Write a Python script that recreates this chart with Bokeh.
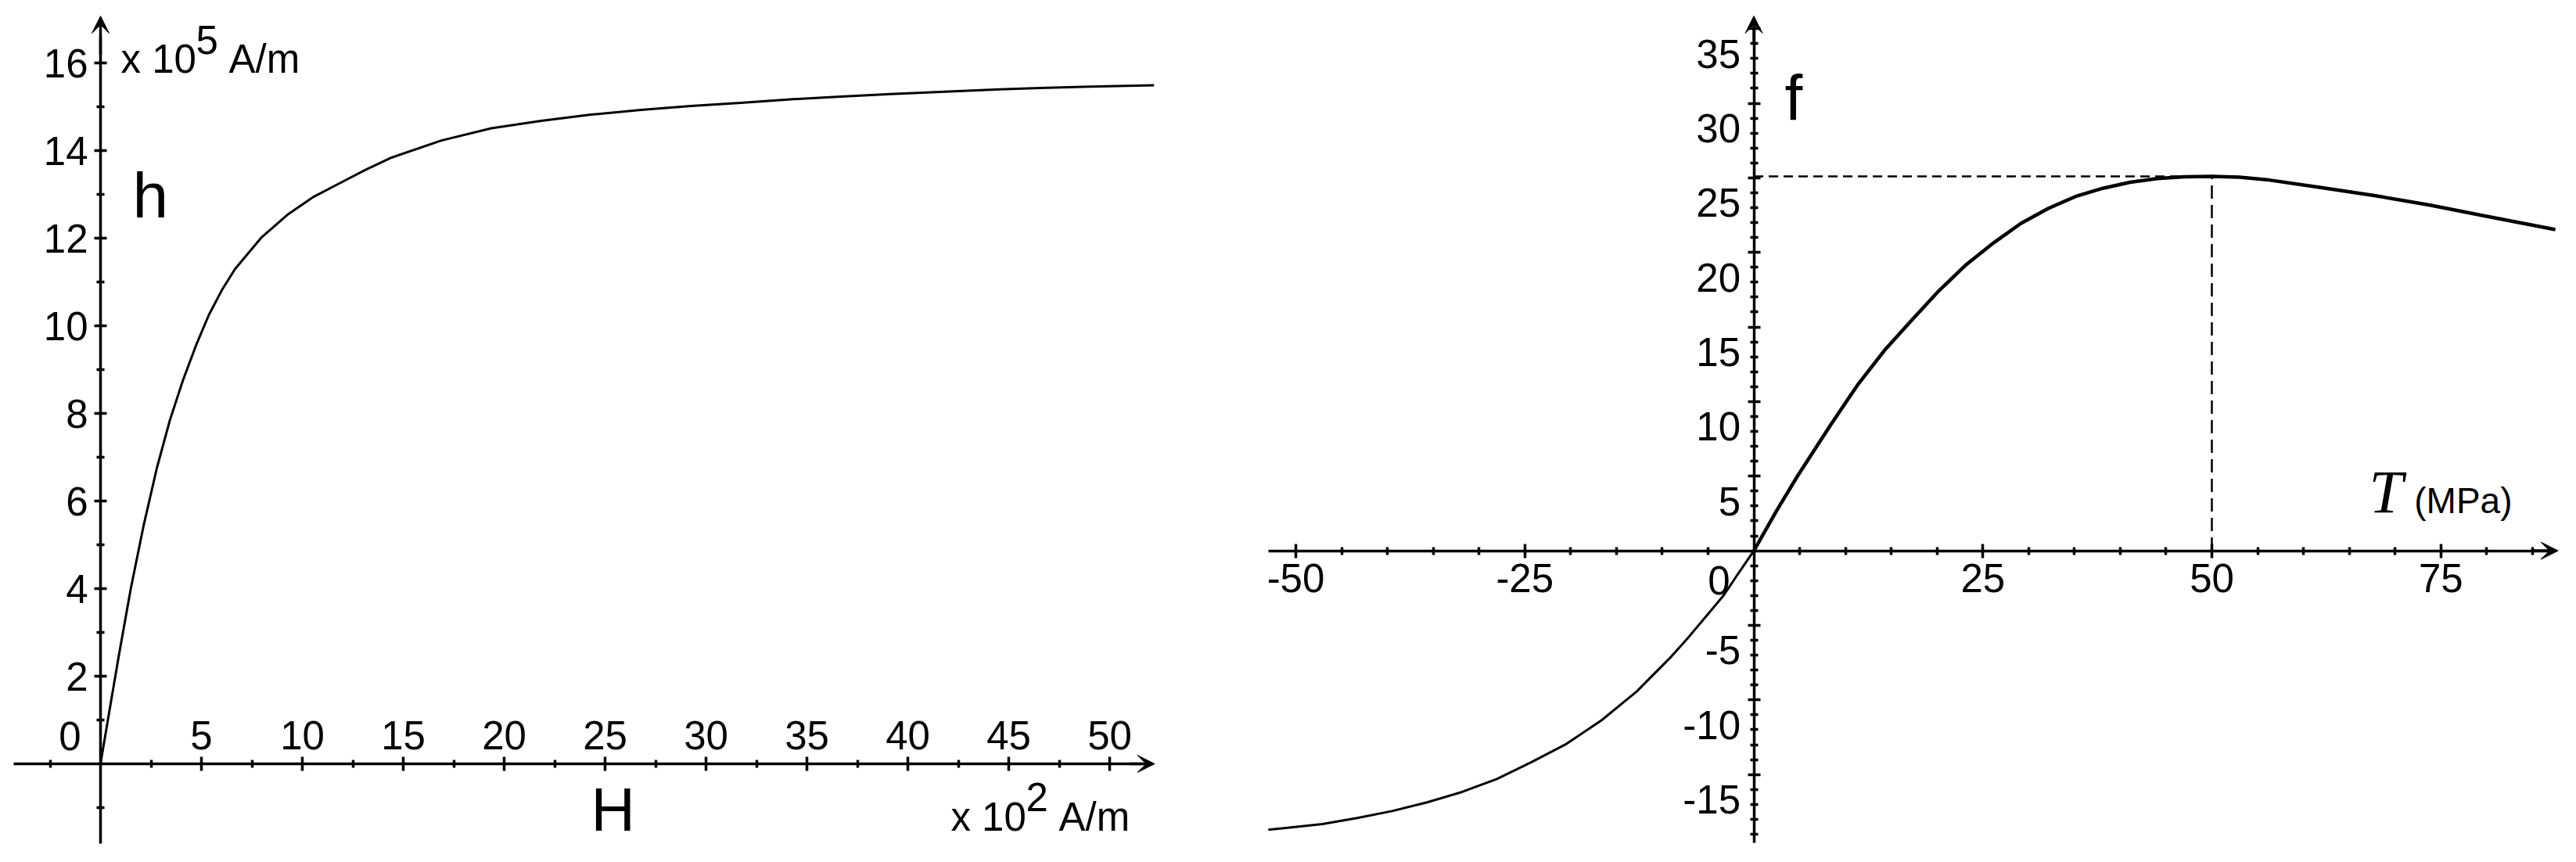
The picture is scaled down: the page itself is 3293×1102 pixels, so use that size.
from bokeh.plotting import figure
from bokeh.layouts import row
from bokeh.models import Range1d, LinearAxis, FixedTicker, Arrow, VeeHead, Label
from bokeh.core.properties import value
from bokeh.embed import file_html
from bokeh.resources import INLINE

# ---------------- Left chart: h versus H ----------------
H_field = [0, 0.4, 0.9, 1.5, 2.14, 2.79, 3.44, 4.08, 4.73, 5.37, 6.02, 6.67, 7.96,
           9.25, 10.54, 11.83, 13.13, 14.42, 16.89, 19.36, 21.83, 24.3, 26.78, 29.25,
           31.72, 34.19, 36.67, 39.14, 41.6, 44.08, 46.55, 49.02, 52.2]
h_mag = [0, 1.1, 2.45, 4.0, 5.45, 6.75, 7.85, 8.75, 9.55, 10.25, 10.82, 11.3, 12.01,
         12.53, 12.94, 13.25, 13.56, 13.84, 14.23, 14.51, 14.68, 14.82, 14.93, 15.02,
         15.09, 15.17, 15.23, 15.29, 15.34, 15.39, 15.43, 15.46, 15.49]
H_major = [5, 10, 15, 20, 25, 30, 35, 40, 45, 50]
H_minor = [-2.5, 2.5, 7.5, 12.5, 17.5, 22.5, 27.5, 32.5, 37.5, 42.5, 47.5]
h_major = [2, 4, 6, 8, 10, 12, 14, 16]
h_minor = [-1, 1, 3, 5, 7, 9, 11, 13, 15]

# ---------------- Right chart: f versus T ----------------
T_neg = [-53.0, -50.9, -47.1, -43.3, -39.49, -35.68, -31.86, -28.05, -24.24, -20.43,
         -16.62, -12.8, -8.99, -7.09, -5.18, -3.27, -1.75, 0]
f_neg = [-18.7, -18.57, -18.32, -17.92, -17.45, -16.87, -16.17, -15.3, -14.16, -12.94,
         -11.36, -9.44, -7.08, -5.77, -4.37, -2.97, -1.57, 0]
T_pos = [0, 2.5, 4.76, 8.34, 11.31, 14.35, 17.3, 20.24, 23.22, 26.19, 29.17, 32.14,
         35.12, 38.1, 41.07, 44.05, 47.0, 50.0, 53.0, 55.95, 61.9, 67.87, 73.82, 79.77, 87.5]
f_pos = [0, 2.7, 5.0, 8.4, 11.1, 13.5, 15.5, 17.45, 19.2, 20.65, 21.95, 22.95,
         23.75, 24.3, 24.7, 24.95, 25.07, 25.1, 25.04, 24.88, 24.35, 23.8, 23.17, 22.45, 21.53]
T_peak = 50
f_peak = 25.1
T_major = [-50, -25, 25, 50, 75]
T_minor = [t for t in range(-45, 90, 5) if t % 25 != 0]
f_major = [-15, -10, -5, 5, 10, 15, 20, 25, 30, 35]
f_minor = [v for v in range(-19, 35) if v % 5 != 0]

FONT = "Liberation Sans"
BLACK = "black"
FIG_H = 1102


def make_fig(width, x_rng, y_rng):
    p = figure(width=width, height=FIG_H, x_range=Range1d(*x_rng), y_range=Range1d(*y_rng),
               output_backend="svg", toolbar_location=None, title=None,
               x_axis_location=None, y_axis_location=None,
               min_border=0, min_border_left=0, min_border_right=0,
               min_border_top=0, min_border_bottom=0)
    p.outline_line_color = None
    p.background_fill_color = "white"
    p.border_fill_color = "white"
    p.grid.visible = False
    return p


def add_axis(p, side, ticks, minor, bounds, tick_len, minor_len, standoff, show_labels=True):
    ax = LinearAxis(fixed_location=0, ticker=FixedTicker(ticks=ticks, minor_ticks=minor),
                    bounds=bounds)
    ax.axis_line_width = 3.5
    ax.axis_line_color = BLACK
    ax.major_tick_line_width = 3.5
    ax.major_tick_line_color = BLACK
    ax.minor_tick_line_width = 3.5
    ax.minor_tick_line_color = BLACK
    ax.major_tick_in = tick_len
    ax.major_tick_out = tick_len
    ax.minor_tick_in = minor_len
    ax.minor_tick_out = minor_len
    ax.major_label_text_font = FONT
    ax.major_label_text_font_size = "51px"
    ax.major_label_text_color = BLACK
    ax.major_label_standoff = standoff
    if show_labels:
        ax.major_label_overrides = {t: str(t) for t in ticks}
    else:
        ax.major_label_overrides = {t: "" for t in ticks}
    p.add_layout(ax, side)
    return ax


def arrow(p, x0, y0, x1, y1):
    p.add_layout(Arrow(end=VeeHead(size=22, fill_color=BLACK, line_color=BLACK, line_width=1),
                       x_start=x0, y_start=y0, x_end=x1, y_end=y1,
                       line_width=3.5, line_color=BLACK))


def txt(p, x, y, s, size, font=FONT, style="normal", align="left", on_baseline=True,
        dx=0, dy=0):
    # (x, y) + (dx right, dy down) is the text baseline point when on_baseline,
    # otherwise the vertical middle. Drawn with a "middle" baseline for reliability.
    up = -dy
    if on_baseline:
        up += 0.3465 * size
    p.add_layout(Label(x=x, y=y, text=s, text_font=font, text_font_size=f"{size}px",
                       text_font_style=style, text_align=align, text_baseline="middle",
                       x_offset=dx, y_offset=up, text_color=BLACK))


# ---------- left figure ----------
ox1, oy1, sx1, sy1 = 128.0, 976.0, 25.8, 56.0
p1 = make_fig(1600, ((0 - ox1) / sx1, (1600 - ox1) / sx1), ((oy1 - FIG_H) / sy1, oy1 / sy1))

add_axis(p1, "above", H_major, H_minor, (-4.3, 51.6), 9, 5, 10)
add_axis(p1, "left", h_major, h_minor, (-1.82, 16.6), 8, 5, 8)
arrow(p1, 51.0, 0, 52.23, 0)
arrow(p1, 0, 16.2, 0, 17.07)

p1.line(H_field, h_mag, line_width=3, line_color=BLACK)

txt(p1, 0, 0, "0", 51, align="center", on_baseline=False, dx=-39, dy=-36)
txt(p1, 1.59, 12.48, "h", 82)
txt(p1, 24.3, -1.536, "H", 78)
# unit labels with superscript exponent
txt(p1, 0, 16, "x 10", 51, dx=26, dy=13)
txt(p1, 0, 16, "5", 51, dx=122, dy=-12)
txt(p1, 0, 16, "A/m", 51, dx=164, dy=13)
txt(p1, 42.13, -1.536, "x 10", 51)
txt(p1, 42.13, -1.536, "2", 51, dx=96, dy=-26)
txt(p1, 42.13, -1.536, "A/m", 51, dx=138)

# ---------- right figure ----------
ox2, oy2, sx2, sy2 = 2241.5, 703.6, 11.71, 19.07
p2 = make_fig(1693, ((1600 - ox2) / sx2, (3293 - ox2) / sx2), ((oy2 - FIG_H) / sy2, oy2 / sy2))

add_axis(p2, "below", T_major, T_minor, (-53.0, 86.8), 9, 5, 8)
add_axis(p2, "left", f_major, f_minor, (-19.6, 35.0), 8, 5, 8, show_labels=False)
arrow(p2, 85.0, 0, 87.8, 0)
arrow(p2, 0, 34.0, 0, 35.85)

# y tick labels sit just below their ticks
p2.text(x=[0] * len(f_major), y=f_major, text=[str(v) for v in f_major],
        text_font=value(FONT), text_font_size="51px", text_align="right",
        text_baseline="middle", x_offset=-17, y_offset=32, text_color=BLACK)

p2.line([0, T_peak], [f_peak, f_peak], line_dash="12 7", line_width=2.5, line_color=BLACK)
p2.line([T_peak, T_peak], [0, f_peak], line_dash="17 8", line_width=2.5, line_color=BLACK)

p2.line(T_neg, f_neg, line_width=3, line_color=BLACK)
p2.line(T_pos, f_pos, line_width=4.5, line_color=BLACK)

txt(p2, 0, 0, "0", 51, align="center", on_baseline=False, dx=-44.5, dy=37.4)
txt(p2, 3.38, 28.92, "f", 82)
txt(p2, 67.16, 2.55, "T", 78, font="Liberation Serif", style="italic")
txt(p2, 72.1, 2.55, "(MPa)", 46)

layout = row(p1, p2)
open("out.html", "w").write(file_html(layout, INLINE))
